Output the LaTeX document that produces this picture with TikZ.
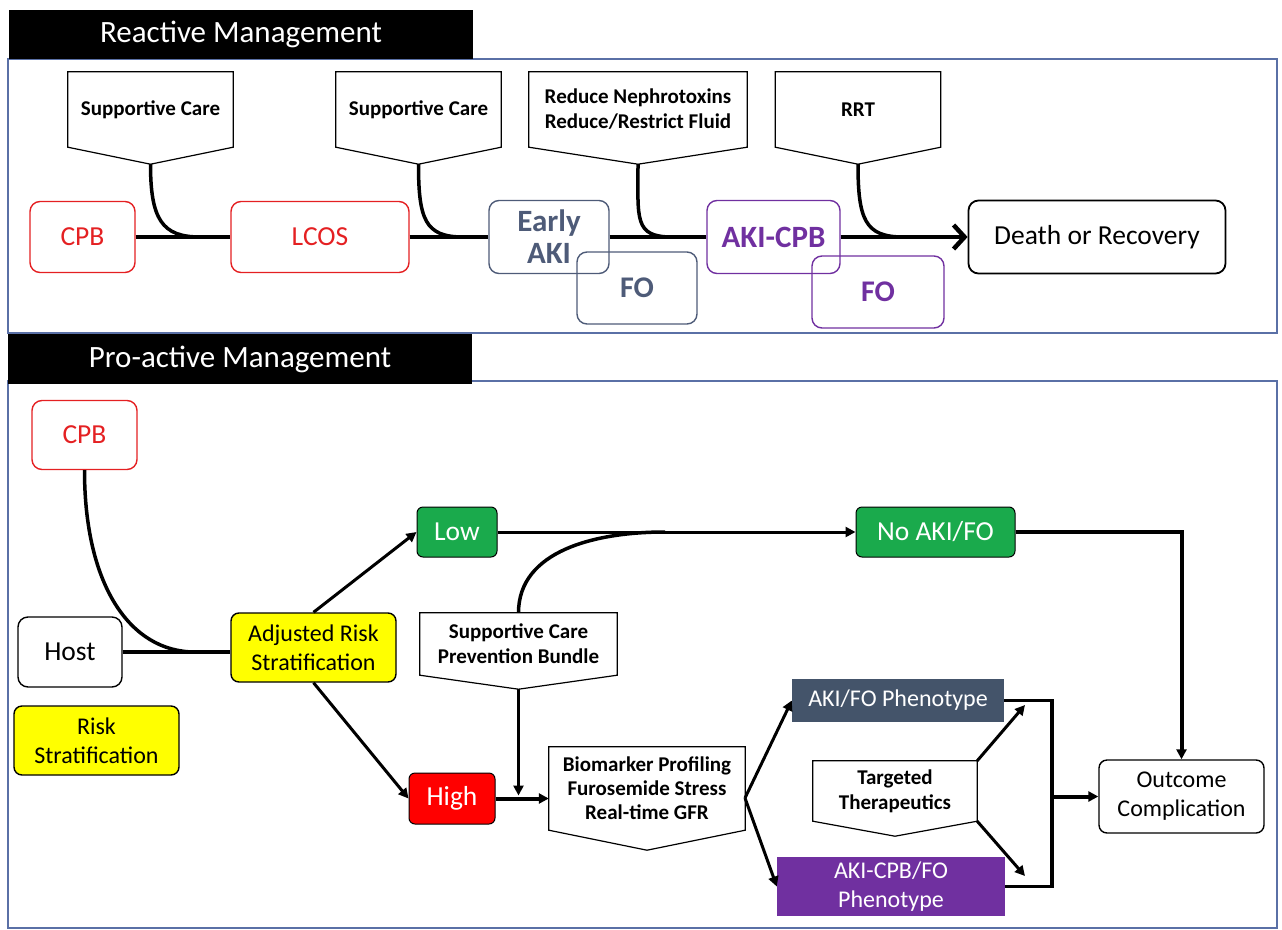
\documentclass[tikz,border=0pt]{standalone}
\usepackage{fontspec}
\setmainfont{Carlito}
\usetikzlibrary{arrows.meta}

\definecolor{framecol}{RGB}{90,112,166}
\definecolor{cpbred}{RGB}{228,32,34}
\definecolor{akigray}{RGB}{78,91,120}
\definecolor{akipurple}{RGB}{112,48,160}
\definecolor{okgreen}{RGB}{26,170,76}
\definecolor{riskyellow}{RGB}{255,255,0}
\definecolor{highred}{RGB}{255,0,0}
\definecolor{slate}{RGB}{68,84,106}

\tikzset{
  hdr/.style={fill=black, text=white, inner sep=0pt, font=\fontsize{31}{36}\selectfont},
  panel/.style={draw=framecol, line width=1.5pt},
  rbox/.style={draw, rounded corners=10pt, line width=1.4pt, inner sep=0pt, align=center,
    font=\fontsize{27.5}{31}\selectfont},
  sbox/.style={draw=black, rounded corners=6pt, line width=1pt, inner sep=0pt, align=center,
    text=white, font=\fontsize{27.5}{31}\selectfont},
  pheno/.style={inner sep=0pt, align=center, text=white, font=\fontsize{24}{29}\selectfont},
  callout/.style={inner sep=0pt, align=center, font=\bfseries\fontsize{21}{25}\selectfont},
  calloutline/.style={draw, line width=1.2pt},
  mainline/.style={line width=4.5pt},
  link/.style={line width=3.5pt},
  arr/.style={line width=3pt, -{Triangle[length=10pt,width=10pt]}},
}

% callout outline round a node, with a point below it
\newcommand{\calloutshape}[2]{%
  \draw[calloutline] (#1.north west) -- (#1.north east) -- (#1.south east)
    -- ([yshift=-#2]#1.south) coordinate (#1tip) -- (#1.south west) -- cycle;}

\begin{document}
\begin{tikzpicture}[x=1pt, y=-1pt]
    \useasboundingbox (0,0) rectangle (1282,929);

    % Reactive management
    \draw[panel] (8,59) rectangle (1277,333);
    \node[hdr, minimum width=464pt, minimum height=49pt] (rhdr) at (241,34) {Reactive Management};

    \node[callout, minimum width=165pt, minimum height=75pt] (c1) at (150.5,109.5) {Supportive Care};
    \node[callout, minimum width=165pt, minimum height=75pt] (c2) at (418.5,109.5) {Supportive Care};
    \node[callout, minimum width=218pt, minimum height=75pt] (c3) at (638,109.5) {Reduce Nephrotoxins\\Reduce/Restrict Fluid};
    \node[callout, minimum width=165pt, minimum height=75pt] (c4) at (858,109.5) {RRT};
    \calloutshape{c1}{17pt}
    \calloutshape{c2}{17pt}
    \calloutshape{c3}{17pt}
    \calloutshape{c4}{17pt}

    \node[rbox, draw=cpbred, text=cpbred, minimum width=105pt, minimum height=71pt] (cpb1) at (82.5,237) {CPB};
    \node[rbox, draw=cpbred, text=cpbred, minimum width=178pt, minimum height=71pt] (lcos) at (320,237) {LCOS};
    \node[rbox, draw=akigray, text=akigray, minimum width=120pt, minimum height=73pt,
          font=\bfseries\fontsize{31}{32}\selectfont] (eaki) at (549,237) {Early\\AKI};
    \node[rbox, draw=akigray, text=akigray, minimum width=120pt, minimum height=72pt,
          font=\bfseries\fontsize{30}{32}\selectfont] (fo1) at (637,288) {FO};
    \node[rbox, draw=akipurple, text=akipurple, minimum width=133pt, minimum height=73pt,
          font=\bfseries\fontsize{31}{32}\selectfont] (akicpb) at (773.5,237) {AKI-CPB};
    \node[rbox, draw=akipurple, text=akipurple, minimum width=132pt, minimum height=72pt,
          font=\bfseries\fontsize{30}{32}\selectfont] (fo2) at (878,292) {FO};
    \node[rbox, line width=1.8pt, minimum width=257pt, minimum height=73pt] (death) at (1097,237) {Death or Recovery};

    \draw[mainline] (cpb1) -- (lcos);
    \draw[mainline] (lcos) -- (eaki);
    \draw[mainline] (eaki) -- (akicpb);
    \draw[mainline, -{Straight Barb[length=11pt,width=24pt]}] (akicpb) -- (death);

    \coordinate (m1) at (200,237);
    \coordinate (m2) at (463,237);
    \coordinate (m3) at (672,237);
    \coordinate (m4) at (903,237);
    \draw[link] (c1tip) .. controls +(0,55) and +(-38,0) .. (m1);
    \draw[link] (c2tip) .. controls +(0,55) and +(-38,0) .. (m2);
    \draw[link] (c3tip) .. controls +(0,55) and +(-38,0) .. (m3);
    \draw[link] (c4tip) .. controls +(0,55) and +(-38,0) .. (m4);

    % Pro-active management
    \draw[panel] (8,381) rectangle (1277,928);
    \node[hdr, minimum width=464pt, minimum height=50pt] (phdr) at (240,359) {Pro-active Management};

    \node[rbox, draw=cpbred, text=cpbred, minimum width=105pt, minimum height=69pt] (cpb2) at (84.5,435) {CPB};
    \node[rbox, minimum width=104pt, minimum height=70pt] (host) at (70,652) {Host};
    \node[rbox, fill=riskyellow, rounded corners=8pt, minimum width=165pt, minimum height=69pt,
          font=\fontsize{24}{29}\selectfont] (risk) at (96.5,740.5) {Risk\\Stratification};
    \node[rbox, fill=riskyellow, rounded corners=8pt, minimum width=165pt, minimum height=69pt,
          font=\fontsize{24}{29}\selectfont] (adj) at (313.5,647.5) {Adjusted Risk\\Stratification};
    \node[sbox, fill=okgreen, minimum width=80pt, minimum height=50pt] (low) at (457,532) {Low};
    \node[sbox, fill=okgreen, minimum width=159pt, minimum height=50pt] (noaki) at (935.5,532) {No AKI/FO};
    \node[sbox, fill=highred, minimum width=86pt, minimum height=51pt] (high) at (452,798.5) {High};
    \node[pheno, fill=slate, minimum width=212pt, minimum height=43pt] (akifo) at (898,700.5) {AKI/FO Phenotype};
    \node[pheno, fill=akipurple, minimum width=228pt, minimum height=59pt] (akicpbfo) at (891,886.5) {AKI-CPB/FO\\Phenotype};
    \node[rbox, rounded corners=8pt, minimum width=165pt, minimum height=73pt,
          font=\fontsize{24}{29}\selectfont] (outcome) at (1181.5,796.5) {Outcome\\Complication};

    \node[callout, minimum width=197pt, minimum height=62pt] (scb) at (518.5,644) {Supportive Care\\Prevention Bundle};
    \node[callout, minimum width=196pt, minimum height=83pt, font=\bfseries\fontsize{21}{24}\selectfont] (bio) at (647,788.5)
          {Biomarker Profiling\\Furosemide Stress\\Real-time GFR};
    \node[callout, minimum width=164pt, minimum height=60pt] (tt) at (895,791)
          {Targeted\\Therapeutics};
    \calloutshape{scb}{14pt}
    \calloutshape{bio}{20pt}
    \calloutshape{tt}{15pt}

    \coordinate (m5) at (195,652);
    \coordinate (m6) at (665,532);
    \coordinate (bsplit) at (745,798);
    \coordinate (t1) at (1025,705);
    \coordinate (t2) at (1025,876);
    \coordinate (join) at (1052,796.5);

    \draw[link] (host.east) -- (host.east -| adj.west);
    \draw[link] (cpb2.south) .. controls +(0,115) and +(-65,0) .. (m5);
    \draw[arr] (adj.north) -- (low.west);
    \draw[arr] (adj.south) -- (high.west);
    \draw[arr] (low) -- (noaki);
    \draw[link] (scb.north) .. controls +(0,-62) and +(-70,0) .. (m6);
    \draw[arr] (scbtip) -- ([yshift=3pt]scbtip |- high);
    \draw[arr, line width=4pt] (high.east) -- (high.east -| bio.west);
    \draw[arr] (bsplit) -- (akifo.west);
    \draw[arr] (bsplit) -- (akicpbfo.west);
    \draw[arr] (tt.north east) -- (t1);
    \draw[arr] (tt.south east) -- (t2);
    \draw[link] (akifo.east) -- (join |- akifo.east) -- (join |- akicpbfo.east) -- (akicpbfo.east);
    \draw[arr, line width=4pt] (join) -- (outcome.west);
    \draw[arr, line width=4pt] (noaki.east) -| (outcome.north);
\end{tikzpicture}
\end{document}
